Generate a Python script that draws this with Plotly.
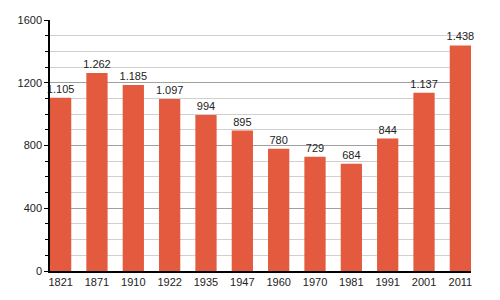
import plotly.graph_objects as go

years = ["1821", "1871", "1910", "1922", "1935", "1947", "1960", "1970", "1981", "1991", "2001", "2011"]
population = [1105, 1262, 1185, 1097, 994, 895, 780, 729, 684, 844, 1137, 1438]
y_ticks = [0, 400, 800, 1200, 1600]

labels = [f"{v:,}".replace(",", ".") for v in population]
xpos = list(range(len(years)))
bw = 0.585

fig = go.Figure(go.Bar(
    x=xpos, y=population, width=bw,
    marker=dict(color="#e35a3e", line=dict(width=0)),
    text=labels, textposition="outside", cliponaxis=False, constraintext="none",
    textfont=dict(family="Liberation Sans, Arial", size=11, color="#222"),
))
fig.update_layout(
    width=500, height=300, margin=dict(l=50, r=29, t=20, b=20),
    paper_bgcolor="white", plot_bgcolor="white", showlegend=False,
    font=dict(family="Liberation Sans, Arial", size=11, color="#222"),
)
fig.update_xaxes(
    range=[-bw / 2, len(years) - 1 + bw / 2], tickvals=xpos, ticktext=years,
    showline=True, linecolor="black", linewidth=1.5, showgrid=False, ticks="",
    zeroline=False,
)
fig.update_yaxes(
    range=[0, 1600], tickvals=y_ticks, showline=True, linecolor="black", linewidth=1.5,
    showgrid=True, gridcolor="#a0a0a0", gridwidth=1, ticks="outside", ticklen=4,
    tickcolor="black", zeroline=False,
    minor=dict(dtick=100, showgrid=True, gridcolor="#d0d0d0", ticks="outside",
               ticklen=3, tickcolor="black"),
)
fig.write_html("out.html")
